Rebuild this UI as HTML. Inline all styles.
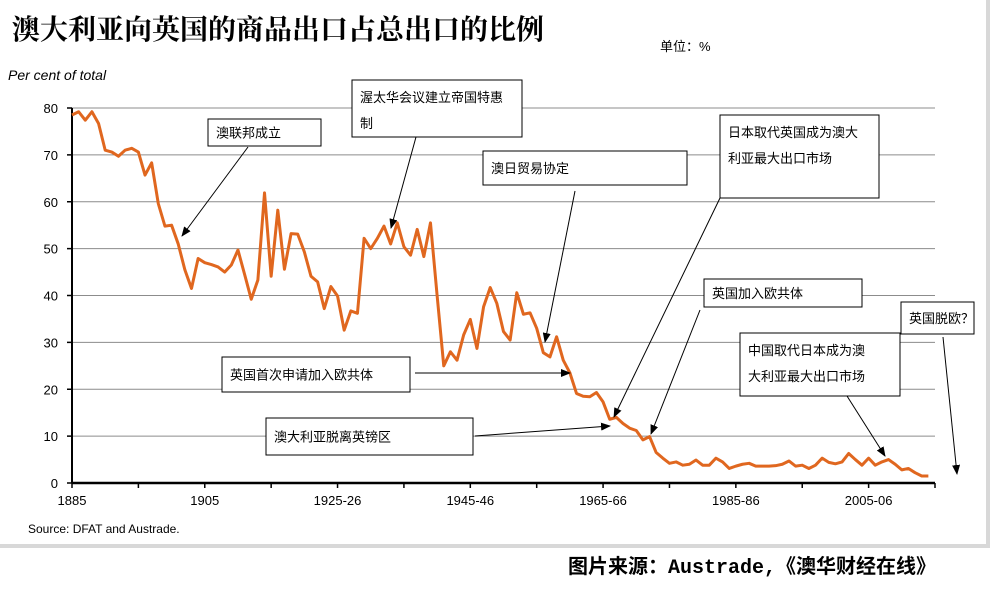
<!DOCTYPE html>
<html><head><meta charset="utf-8"><style>
body{margin:0;background:#fff;}
svg text{font-family:"Liberation Sans","Noto Sans CJK SC",sans-serif;}
</style></head><body>
<svg width="990" height="594" viewBox="0 0 990 594" xmlns="http://www.w3.org/2000/svg">
<rect x="0" y="0" width="990" height="594" fill="#fff"/>
<path d="M0 546 H988 V0" fill="none" stroke="#d8d8d8" stroke-width="4"/>
<text x="12" y="39" font-size="28" font-weight="bold" style="font-family:'Noto Serif CJK SC',serif">澳大利亚向英国的商品出口占总出口的比例</text>
<text x="660" y="51" font-size="13">单位：%</text>
<text x="8" y="80" font-size="14" font-style="italic">Per cent of total</text>
<g id="grid"></g>
<g id="axes"></g>
<g id="series"></g>
<g id="notes"></g>
<text x="28" y="533" font-size="12">Source: DFAT and Austrade.</text>
<text x="568" y="573" font-size="20" font-weight="bold" style="font-family:'Liberation Mono','Noto Sans CJK SC',monospace">图片来源：Austrade,《澳华财经在线》</text>
</svg>
<script>
const years=[1885,1886,1887,1888,1889,1890,1891,1892,1893,1894,1895,1896,1897,1898,1899,1900,1901,1902,1903,1904,1905,1906,1907,1908,1909,1910,1911,1912,1913,1914,1915,1916,1917,1918,1919,1920,1921,1922,1923,1924,1925,1926,1927,1928,1929,1930,1931,1932,1933,1934,1935,1936,1937,1938,1939,1940,1941,1942,1943,1944,1945,1946,1947,1948,1949,1950,1951,1952,1953,1954,1955,1956,1957,1958,1959,1960,1961,1962,1963,1964,1965,1966,1967,1968,1969,1970,1971,1972,1973,1974,1975,1976,1977,1978,1979,1980,1981,1982,1983,1984,1985,1986,1987,1988,1989,1990,1991,1992,1993,1994,1995,1996,1997,1998,1999,2000,2001,2002,2003,2004,2005,2006,2007,2008,2009,2010,2011,2012,2013,2014];
const shares=[78.5,79.2,77.4,79.2,76.7,71,70.6,69.7,71,71.4,70.6,65.7,68.3,59.6,54.8,55,51,45.5,41.5,47.9,47,46.6,46.1,45,46.5,49.7,44.5,39.2,43.3,61.9,44.1,58.2,45.6,53.2,53.1,49.3,44.1,42.9,37.2,41.9,39.9,32.6,36.7,36.2,52.2,50,52.2,54.8,51,55.5,50.4,48.6,54.1,48.3,55.5,40,25,28,26.2,31.6,34.9,28.7,37.6,41.7,38.3,32.3,30.5,40.6,36,36.3,33,27.8,26.9,31.2,26.2,23.5,19.1,18.5,18.4,19.3,17.3,13.6,14,12.7,11.7,11.2,9.2,9.9,6.5,5.3,4.2,4.5,3.8,4,4.9,3.8,3.8,5.3,4.5,3.1,3.6,4,4.2,3.6,3.6,3.6,3.7,4,4.7,3.6,3.8,3.1,3.8,5.3,4.4,4.1,4.5,6.3,5,3.8,5.3,3.8,4.5,5,4,2.8,3.1,2.2,1.5,1.5];
const yTicks=[0,10,20,30,40,50,60,70,80];
const xTickYears=[1885,1895,1905,1915,1925,1935,1945,1955,1965,1975,1985,1995,2005,2015];
const xLabels=["1885","","1905","","1925-26","","1945-46","","1965-66","","1985-86","","2005-06",""];
const NS="http://www.w3.org/2000/svg";
const X0=72,X1=935,Y0=483,Y1=108;
const xs=y=>X0+(y-1885)/(2015-1885)*(X1-X0);
const ys=v=>Y0-v/80*(Y0-Y1);
function mk(tag,attrs,parent){const e=document.createElementNS(NS,tag);for(const k in attrs)e.setAttribute(k,attrs[k]);parent.appendChild(e);return e;}
const grid=document.getElementById('grid'),axes=document.getElementById('axes'),series=document.getElementById('series'),notes=document.getElementById('notes');
yTicks.forEach(v=>{
  if(v>0){const l=mk('line',{x1:X0,x2:X1,y1:ys(v),y2:ys(v),stroke:'#8c8c8c','stroke-width':1},grid);
  
  }
  const t=mk('line',{x1:X0-5,x2:X0,y1:ys(v),y2:ys(v),stroke:'#000','stroke-width':1.5},axes);
  
  
  const tx=mk('text',{x:X0-14,y:ys(v)+5,'font-size':13,'text-anchor':'end'},axes);
  tx.textContent=v;
  
  
});
const ya=mk('line',{x1:X0,x2:X0,y1:Y1,y2:Y0,stroke:'#000','stroke-width':2},axes);


const xa=mk('line',{x1:X0,x2:X1,y1:Y0,y2:Y0,stroke:'#000','stroke-width':2.5},axes);


xTickYears.forEach((yr,i)=>{
  const t=mk('line',{x1:xs(yr),x2:xs(yr),y1:Y0,y2:Y0+5,stroke:'#000','stroke-width':1.5},axes);
  
  
  if(xLabels[i]){const tx=mk('text',{x:xs(yr),y:Y0+22,'font-size':13,'text-anchor':'middle'},axes);
  tx.textContent=xLabels[i];
  
  }
});
const line=mk('polyline',{points:years.map((y,i)=>xs(y)+','+ys(shares[i])).join(' '),fill:'none',stroke:'#e0671f','stroke-width':3,'stroke-linejoin':'round'},series);


mk('defs',{},notes).innerHTML='<marker id="ah" markerWidth="10" markerHeight="8" refX="9" refY="4" orient="auto" markerUnits="userSpaceOnUse"><path d="M0,0 L10,4 L0,8 z" fill="#000"/></marker>';
const boxes=[
 {x:208,y:119,w:113,h:27,t:["澳联邦成立"],a:[248,147,182,236]},
 {x:352,y:80,w:170,h:57,t:["渥太华会议建立帝国特惠","制"],a:[416,137,391,228]},
 {x:483,y:151,w:204,h:34,t:["澳日贸易协定"],a:[575,191,545,342]},
 {x:720,y:115,w:159,h:83,t:["日本取代英国成为澳大","利亚最大出口市场"],a:[720,198,614,417]},
 {x:704,y:279,w:158,h:28,t:["英国加入欧共体"],a:[700,310,651,434]},
 {x:901,y:302,w:73,h:32,t:["英国脱欧？"],a:[943,337,957,474]},
 {x:740,y:333,w:160,h:63,t:["中国取代日本成为澳","大利亚最大出口市场"],a:[847,396,885,456]},
 {x:222,y:357,w:188,h:35,t:["英国首次申请加入欧共体"],a:[415,373,570,373]},
 {x:266,y:418,w:207,h:37,t:["澳大利亚脱离英镑区"],a:[475,436,610,426]}
];
boxes.forEach(b=>{
  const g=mk('g',{},notes);
  
  
  mk('rect',{x:b.x,y:b.y,width:b.w,height:b.h,fill:'#fff',stroke:'#000','stroke-width':1},g);
  b.t.forEach((s,i)=>{const tx=mk('text',{x:b.x+8,y:b.y+(b.t.length>1?22+i*26:b.h/2+5),'font-size':13},g);tx.textContent=s;});
  mk('line',{x1:b.a[0],y1:b.a[1],x2:b.a[2],y2:b.a[3],stroke:'#000','stroke-width':1,'marker-end':'url(#ah)'},g);
});
</script>
</body></html>
